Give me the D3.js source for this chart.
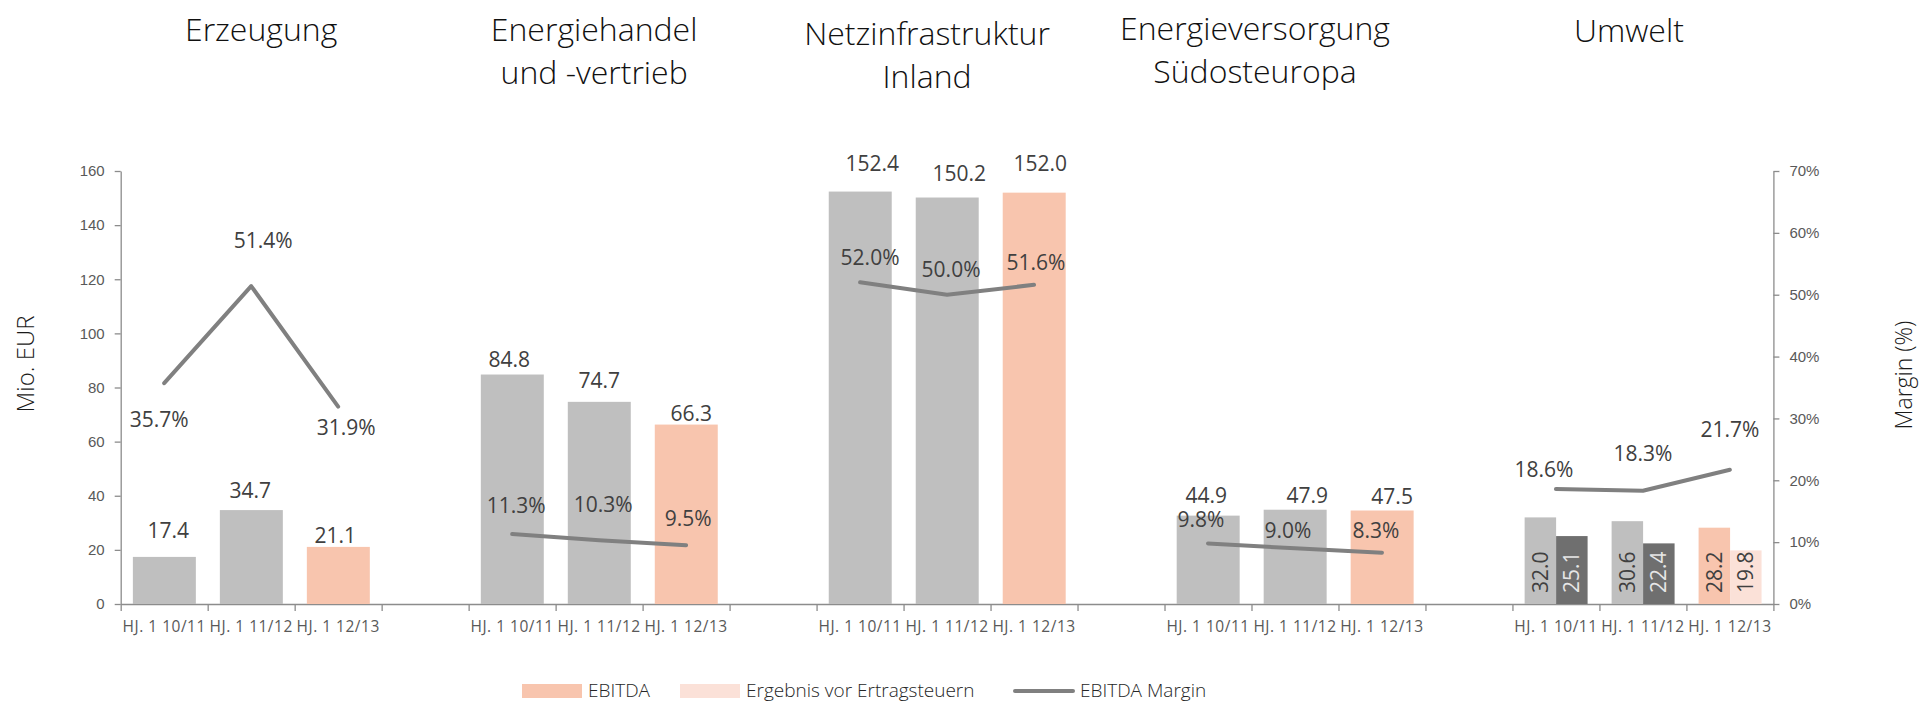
<!DOCTYPE html>
<html>
<head>
<meta charset="utf-8">
<script src="https://cdn.jsdelivr.net/npm/d3@7"></script>
<style>
  html, body { margin: 0; padding: 0; background: #fff; }
  svg { display: block; font-family: "Open Sans", "Noto Sans", sans-serif; }
</style>
</head>
<body>
<div id="chart"></div>
<script>
// Segments (chart titles), one or two lines each
const segments = [
    ["Erzeugung"],
    ["Energiehandel", "und -vertrieb"],
    ["Netzinfrastruktur", "Inland"],
    ["Energieversorgung", "Südosteuropa"],
    ["Umwelt"]
];
const periods = ["HJ. 1 10/11", "HJ. 1 11/12", "HJ. 1 12/13"];

// Values in Mio. EUR and margin in %
const ebitda = [
    [17.4, 34.7, 21.1],
    [84.8, 74.7, 66.3],
    [152.4, 150.2, 152.0],
    [44.9, 47.9, 47.5],
    [32.0, 30.6, 28.2]
];
const ebt = [null, null, null, null, [25.1, 22.4, 19.8]];
const margin = [
    [35.7, 51.4, 31.9],
    [11.3, 10.3, 9.5],
    [52.0, 50.0, 51.6],
    [9.8, 9.0, 8.3],
    [18.6, 18.3, 21.7]
];
const eurTicks = [0, 20, 40, 60, 80, 100, 120, 140, 160];
const pctTicks = [0, 10, 20, 30, 40, 50, 60, 70];

// the Suedosteuropa panel was drawn on its own, smaller scale in the original
const panelMax = [160, 160, 160, 220, 160];

// label nudges (layout only): [dx, dy] from the default position
const barLabelNudge = [
    [[4, -19], [-1, -12], [-3, -4]],
    [[-3, -8], [0, -14], [5, -4]],
    [[12, -21], [12, -17], [6, -22]],
    [[-2, -13], [12, -7], [10, -7]],
    [[0, 0], [0, 0], [0, 0]]
];
const marginLabelNudge = [
    [[-5, 44], [12, -38], [8, 28]],
    [[4, -21], [4, -28], [2, -19]],
    [[10, -17], [4, -18], [2, -15]],
    [[-7, -16], [-7, -10], [-6, -15]],
    [[-12, -12], [0, -30], [0, -33]]
];
const titleNudge = [[10, 41], [-5, 41], [-20, 45], [-40, 40], [-14, 42]];

const W = 1919, H = 704;
const plot = { left: 120.7, right: 1773.4, top: 171, bottom: 604 };

const colors = {
    past: "#bfbfbf",
    current: "#f8c5ae",
    ebtPast: "#6f6f6f",
    ebtCurrent: "#fbe1d8",
    line: "#808080",
    axis: "#8c8c8c",
    tick: "#595959",
    label: "#404040"
};

const svg = d3.select("#chart").append("svg")
    .attr("width", W)
    .attr("height", H);

// 5 panels of 3 periods, separated by an empty slot
const slots = d3.range(19);
const x = d3.scaleBand().domain(slots).range([plot.left, plot.right]).paddingInner(0).paddingOuter(0);
const bw = x.bandwidth();
const slotOf = (g, p) => g * 4 + p;

const y = d3.scaleLinear().domain([0, 160]).range([plot.bottom, plot.top]);
const yPct = d3.scaleLinear().domain([0, 70]).range([plot.bottom, plot.top]);
const panelY = panelMax.map(m => d3.scaleLinear().domain([0, m]).range([plot.bottom, plot.top]));

const barPad = bw * 0.14, barW = bw * 0.724;

// Left axis
const yAxis = svg.append("g")
    .attr("transform", `translate(${plot.left},0)`)
    .call(d3.axisLeft(y).tickValues(eurTicks).tickSize(6).tickSizeOuter(0).tickPadding(10));
// Right axis
const yAxisR = svg.append("g")
    .attr("transform", `translate(${plot.right},0)`)
    .call(d3.axisRight(yPct).tickValues(pctTicks).tickFormat(d => d + "%").tickSize(6).tickSizeOuter(0).tickPadding(10));
// Category boundaries on the x axis
const xb = d3.scaleLinear().domain([0, 19]).range([plot.left, plot.right]);
const xAxis = svg.append("g")
    .attr("transform", `translate(0,${plot.bottom})`)
    .call(d3.axisBottom(xb).tickValues(d3.range(20)).tickFormat("").tickSize(7).tickSizeOuter(0));

[yAxis, yAxisR, xAxis].forEach(a => {
    a.select(".domain").attr("stroke", colors.axis).attr("stroke-width", 1.3);
    a.selectAll(".tick line").attr("stroke", colors.axis).attr("stroke-width", 1.3);
    a.selectAll(".tick text").attr("fill", colors.tick).attr("font-size", "15px");
});

// period labels
const cats = [];
segments.forEach((s, g) => periods.forEach((p, i) => cats.push({ g, i, label: p })));
svg.append("g").selectAll("text")
    .data(cats)
    .enter().append("text")
    .attr("x", d => x(slotOf(d.g, d.i)) + bw / 2)
    .attr("y", 632)
    .attr("text-anchor", "middle")
    .attr("font-size", "15.5px")
    .attr("letter-spacing", "0.5px")
    .attr("fill", colors.tick)
    .text(d => d.label);

// Bars
const bars = [];
ebitda.forEach((vals, g) => vals.forEach((v, i) => {
    const cur = i === periods.length - 1;
    if (ebt[g]) {
        bars.push({ g, i, v, x0: barPad, w: barW / 2, fill: cur ? colors.current : colors.past, text: colors.label });
        bars.push({ g, i, v: ebt[g][i], x0: barPad + barW / 2, w: barW / 2, fill: cur ? colors.ebtCurrent : colors.ebtPast, text: cur ? colors.label : "#e6e6e6" });
    } else {
        bars.push({ g, i, v, x0: barPad, w: barW, fill: cur ? colors.current : colors.past, text: colors.label });
    }
}));

svg.append("g").selectAll("rect")
    .data(bars)
    .enter().append("rect")
    .attr("x", d => x(slotOf(d.g, d.i)) + d.x0)
    .attr("y", d => panelY[d.g](d.v))
    .attr("width", d => d.w)
    .attr("height", d => plot.bottom - panelY[d.g](d.v))
    .attr("fill", d => d.fill);

// bar labels: above bars, rotated inside base for the split panel
svg.append("g").selectAll("text")
    .data(bars.filter(d => !ebt[d.g]))
    .enter().append("text")
    .attr("x", d => x(slotOf(d.g, d.i)) + d.x0 + d.w / 2 + barLabelNudge[d.g][d.i][0])
    .attr("y", d => panelY[d.g](d.v) + barLabelNudge[d.g][d.i][1])
    .attr("text-anchor", "middle")
    .attr("font-size", "21px")
    .attr("fill", colors.label)
    .text(d => d.v.toFixed(1));

svg.append("g").selectAll("text")
    .data(bars.filter(d => ebt[d.g]))
    .enter().append("text")
    .attr("transform", d => `translate(${x(slotOf(d.g, d.i)) + d.x0 + d.w / 2},${plot.bottom - 11}) rotate(-90)`)
    .attr("dy", "0.36em")
    .attr("text-anchor", "start")
    .attr("font-size", "21px")
    .attr("fill", d => d.text)
    .text(d => d.v.toFixed(1));

// Margin lines
const line = d3.line()
    .x(d => x(slotOf(d.g, d.i)) + bw / 2)
    .y(d => yPct(d.m));
const marginPts = margin.map((vals, g) => vals.map((m, i) => ({ g, i, m })));

svg.append("g").selectAll("path")
    .data(marginPts)
    .enter().append("path")
    .attr("d", line)
    .attr("fill", "none")
    .attr("stroke", colors.line)
    .attr("stroke-width", 4)
    .attr("stroke-linecap", "round")
    .attr("stroke-linejoin", "round");

svg.append("g").selectAll("text")
    .data(marginPts.flat())
    .enter().append("text")
    .attr("x", d => x(slotOf(d.g, d.i)) + bw / 2 + marginLabelNudge[d.g][d.i][0])
    .attr("y", d => yPct(d.m) + marginLabelNudge[d.g][d.i][1])
    .attr("text-anchor", "middle")
    .attr("font-size", "21px")
    .attr("fill", colors.label)
    .text(d => d.m.toFixed(1) + "%");

// Titles
svg.append("g").selectAll("text")
    .data(segments)
    .enter().append("text")
    .attr("x", (d, g) => x(slotOf(g, 1)) + bw / 2 + titleNudge[g][0])
    .attr("y", (d, g) => titleNudge[g][1])
    .attr("text-anchor", "middle")
    .attr("font-size", "32px")
    .attr("font-weight", 300)
    .attr("fill", "#111")
    .each(function(lines) {
        const t = d3.select(this);
        lines.forEach((l, k) => {
            t.append("tspan")
                .attr("x", t.attr("x"))
                .attr("dy", k === 0 ? 0 : 43)
                .text(l);
        });
    });

// Axis titles
svg.append("text")
    .attr("transform", `translate(34,364) rotate(-90)`)
    .attr("text-anchor", "middle")
    .attr("font-size", "24px")
    .attr("font-weight", 300)
    .attr("fill", "#1a1a1a")
    .text("Mio. EUR");
svg.append("text")
    .attr("transform", `translate(1912,375) rotate(-90)`)
    .attr("text-anchor", "middle")
    .attr("font-size", "23px")
    .attr("font-weight", 300)
    .attr("fill", "#1a1a1a")
    .text("Margin (%)");

// Legend
const legendItems = [
    { label: "EBITDA", type: "rect", color: colors.current, x: 522 },
    { label: "Ergebnis vor Ertragsteuern", type: "rect", color: colors.ebtCurrent, x: 680 },
    { label: "EBITDA Margin", type: "line", color: colors.line, x: 1014 }
];
const legend = svg.append("g");
const li = legend.selectAll("g")
    .data(legendItems)
    .enter().append("g")
    .attr("transform", d => `translate(${d.x},691)`);
li.filter(d => d.type === "rect").append("rect")
    .attr("x", 0).attr("y", -7).attr("width", 60).attr("height", 14)
    .attr("fill", d => d.color);
li.filter(d => d.type === "line").append("line")
    .attr("x1", 1).attr("x2", 59).attr("y1", 0).attr("y2", 0)
    .attr("stroke", d => d.color).attr("stroke-width", 4).attr("stroke-linecap", "round");
li.append("text")
    .attr("x", 66)
    .attr("y", 6)
    .attr("font-size", "19px")
    .attr("font-weight", 300)
    .attr("fill", "#262626")
    .text(d => d.label);
</script>
</body>
</html>
